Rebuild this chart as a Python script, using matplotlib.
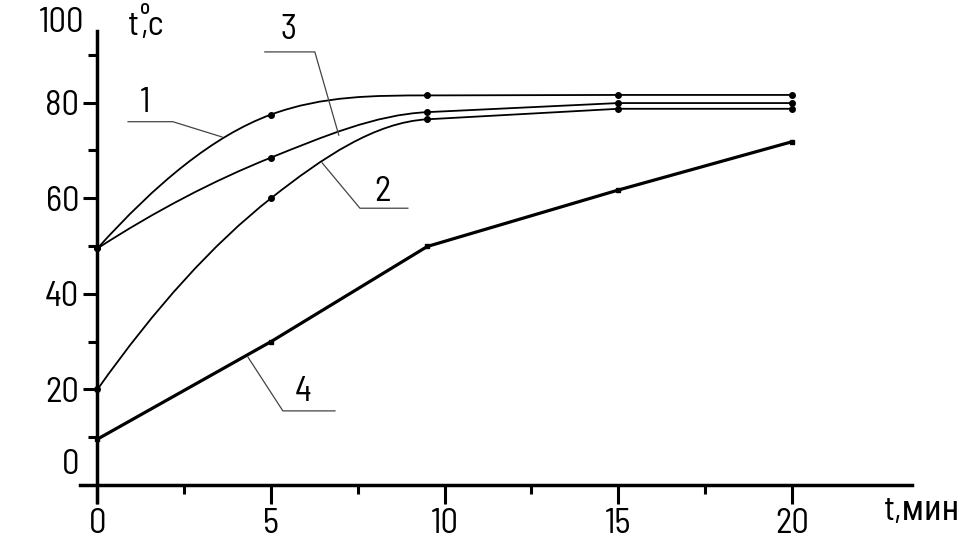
import numpy as np
import matplotlib
matplotlib.use("Agg")
from matplotlib import pyplot as plt
from matplotlib.path import Path
from matplotlib.patches import PathPatch

# узкий шрифт, похожий на чертёжный; кириллица берётся из следующих в списке
plt.rcParams['font.family'] = ['Barlow Semi Condensed', 'Barlow Condensed', 'Roboto Condensed',
                               'Archivo Narrow', 'DejaVu Sans']

# время, мин
t_min = [0, 5, 9.5, 15, 20]
# температура, °C
curve1 = [49.5, 77.5, 81.5, 81.6, 81.6]
curve2 = [20, 60, 76.5, 78.7, 78.7]
curve3 = [49.5, 68.5, 78, 79.9, 79.9]
curve4 = [9.6, 30, 49.9, 61.7, 71.8]

x_ticks = [0, 5, 10, 15, 20]
x_minor = [2.5, 7.5, 12.5, 17.5]
y_ticks = [20, 40, 60, 80]
y_minor = [10, 30, 50, 70, 90]


def smooth_path(xs, ys, knee=2):
    # до "колена" - плавная кривая (кубические Безье), дальше - отрезки
    xs = np.asarray(xs, float)
    ys = np.asarray(ys, float)
    h = np.diff(xs)
    d = np.diff(ys) / h
    m = np.zeros(knee + 1)
    m[0] = ((2 * h[0] + h[1]) * d[0] - h[0] * d[1]) / (h[0] + h[1])
    for i in range(1, knee):
        m[i] = (h[i] * d[i - 1] + h[i - 1] * d[i]) / (h[i - 1] + h[i])
    m[knee] = d[knee]
    # без выбросов (Фрич-Карлсон)
    for i in range(knee):
        a, b = m[i] / d[i], m[i + 1] / d[i]
        if a * a + b * b > 9:
            tau = 3 / np.hypot(a, b)
            m[i], m[i + 1] = tau * a * d[i], tau * b * d[i]
    verts = [(xs[0], ys[0])]
    codes = [Path.MOVETO]
    for i in range(knee):
        verts += [(xs[i] + h[i] / 3, ys[i] + m[i] * h[i] / 3),
                  (xs[i + 1] - h[i] / 3, ys[i + 1] - m[i + 1] * h[i] / 3),
                  (xs[i + 1], ys[i + 1])]
        codes += [Path.CURVE4] * 3
    for i in range(knee + 1, len(xs)):
        verts.append((xs[i], ys[i]))
        codes.append(Path.LINETO)
    return Path(verts, codes)


fig = plt.figure(figsize=(9.63, 5.38), dpi=100)
ax = fig.add_axes([0, 0, 1, 1])
ax.set_xlim(-2.808, 24.93)
ax.set_ylim(-11.09, 101.46)

for s in ['top', 'right']:
    ax.spines[s].set_visible(False)
ax.spines['left'].set_position(('data', 0))
ax.spines['bottom'].set_position(('data', 0))
ax.spines['left'].set_bounds(-3.6, 95)
ax.spines['bottom'].set_bounds(-0.5, 23.46)
ax.spines['left'].set_linewidth(2.5)
ax.spines['bottom'].set_linewidth(2.5)

ax.set_xticks(x_ticks)
ax.set_xticklabels([str(v) for v in x_ticks])
ax.set_xticks(x_minor, minor=True)
ax.set_yticks(y_ticks)
ax.set_yticklabels([str(v) for v in y_ticks])
ax.set_yticks(y_minor, minor=True)
ax.tick_params(axis='x', which='major', direction='out', length=13.5, width=2.2, pad=3, labelsize=25)
ax.tick_params(axis='x', which='minor', direction='out', length=6.5, width=2.2)
ax.tick_params(axis='y', which='major', direction='out', length=10, width=2.2, pad=3, labelsize=25)
ax.tick_params(axis='y', which='minor', direction='out', length=6.5, width=2.2)

ax.text(-1.02, 96.6, "100", fontsize=25, ha='center', va='center')
ax.text(-0.76, 4.2, "0", fontsize=25, ha='center', va='center')

# кривые 1-3 плавные, 4 - ломаная
for ys in [curve1, curve2, curve3]:
    ax.add_patch(PathPatch(smooth_path(t_min, ys), fill=False, lw=1.3, color='black'))
    ax.plot(t_min, ys, 'o', color='black', markersize=4)
ax.plot(t_min, curve4, '-', color='black', lw=2.3)
ax.plot(t_min, curve4, 's', color='black', markersize=3.5)

# выноски с номерами кривых
leaders = {
    "1": ([0.88, 2.17, 3.59], [76.0, 76.0, 72.8], (1.37, 79.9)),
    "3": ([4.82, 6.26, 6.95], [90.6, 90.6, 73.2], (5.49, 95.2)),
    "2": ([6.47, 7.56, 8.94], [67.4, 57.9, 57.9], (8.22, 61.3)),
    "4": ([4.33, 5.34, 6.84], [26.8, 15.5, 15.5], (5.92, 19.5)),
}
for label, (lx, ly, pos) in leaders.items():
    ax.plot(lx, ly, color='#444444', lw=0.9)
    ax.text(pos[0], pos[1], label, fontsize=25, ha='center', va='center')

# подписи осей
ax.text(0.88, 94.1, "t", fontsize=25, ha='left', va='baseline')
ax.text(1.22, 94.1, ",c", fontsize=25, ha='left', va='baseline')
ax.text(1.38, 99.6, "o", fontsize=15, fontweight='medium', ha='center', va='center')
ax.text(22.65, -7.3, "t,мин", fontsize=25, ha='left', va='baseline')

fig.savefig("out.png", dpi=100, facecolor='white')
